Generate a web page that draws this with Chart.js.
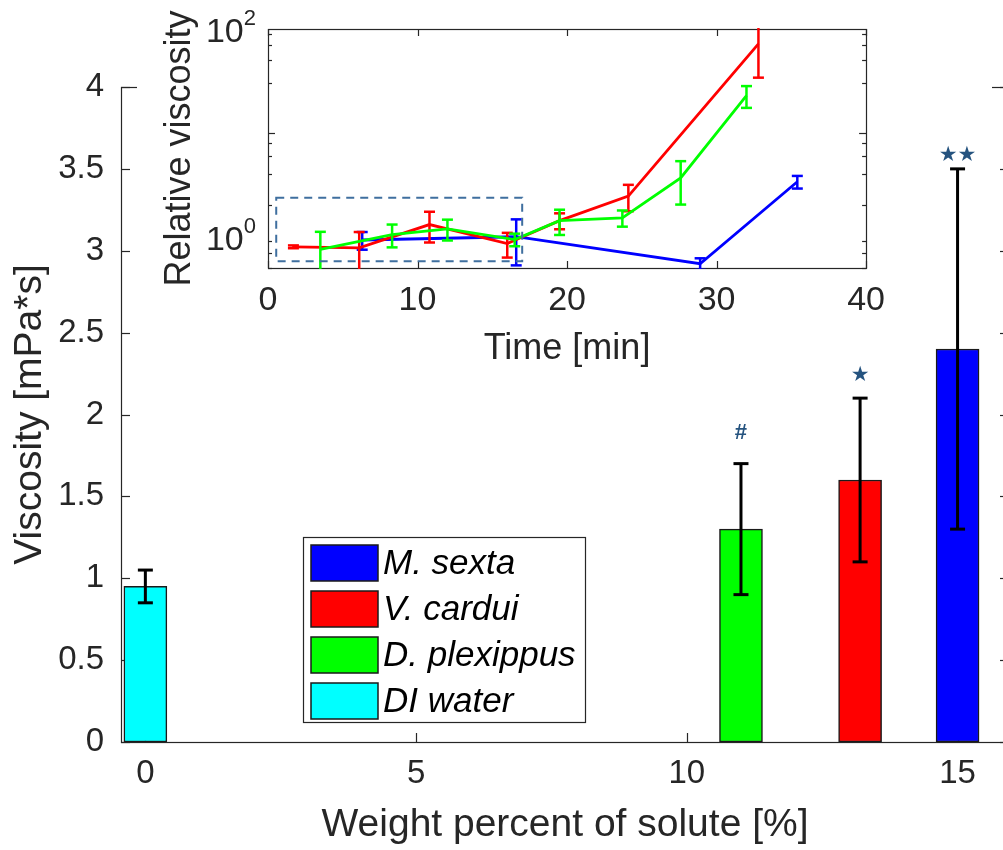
<!DOCTYPE html>
<html>
<head>
<meta charset="utf-8">
<title>Viscosity vs solute</title>
<script src="https://cdn.jsdelivr.net/npm/chart.js@4.4.0/dist/chart.umd.min.js"></script>
<style>
html,body{margin:0;padding:0;background:#fff;overflow:hidden;width:1003px;height:850px;}
#wrap{position:relative;width:1003px;height:850px;overflow:hidden;}
#main{position:absolute;left:0;top:0;}
#mask{position:absolute;left:137px;top:80px;width:855px;height:20px;background:#fff;}
#inset{position:absolute;left:137px;top:0;}
</style>
</head>
<body>
<div id="wrap">
  <canvas id="main" width="1012" height="850"></canvas>
  <div id="mask"></div>
  <canvas id="inset" width="760" height="372"></canvas>
</div>
<script>
const FONT = "'Liberation Sans', Arial, sans-serif";
const INK = '#262626';

// main bars: viscosity of nectar mimics per species
const species = ['M. sexta', 'V. cardui', 'D. plexippus', 'DI water'];
const soluteWt = [15, 13.2, 11, 0];
const viscosity = [2.4, 1.6, 1.3, 0.95];
const viscosityErr = [1.1, 0.5, 0.4, 0.1];
const sigMarks = ['★★', '★', '#', ''];
const sigMarkY = [3.58, 2.24, 1.89, 0];
const speciesColors = ['#0000ff', '#ff0000', '#00ff00', '#00ffff'];
const wtTicks = [0, 5, 10, 15];
const viscTicks = [0, 0.5, 1, 1.5, 2, 2.5, 3, 3.5, 4];

// inset: relative viscosity over time
const sextaTime = [6.3, 16.6, 28.9, 35.4];
const sextaRel = [0.93, 1.0, 0.55, 3.38];
const sextaErr = [0.18, 0.47, 0.07, 0.47];

const carduiTime = [1.7, 6.1, 10.8, 16.0, 19.5, 24.1, 32.8];
const carduiRel = [0.80, 0.78, 1.31, 0.86, 1.43, 2.46, 72];
const carduiErr = [0.025, 0.33, 0.43, 0.23, 0.25, 0.70, 38];

const plexTime = [3.5, 8.3, 12.0, 16.5, 19.5, 23.7, 27.6, 32.0];
const plexRel = [0.755, 1.05, 1.19, 0.94, 1.43, 1.52, 3.69, 22.8];
const plexErr = [0.36, 0.26, 0.27, 0.13, 0.39, 0.27, 1.65, 5.4];

const timeTicks = [0, 10, 20, 30, 40];
const relMajor = [1, 10, 100];
const relMinor = [0.5, 0.6, 0.7, 0.8, 0.9, 2, 3, 4, 5, 6, 7, 8, 9, 20, 30, 40, 50, 60, 70, 80, 90];
const relLabels = [1, 100];

// dashed region marking the early, near-constant phase
const earlyBoxTime = [0.55, 17.0];
const earlyBoxRel = [0.58, 2.37];

function pairs(xs, ys) { return xs.map((x, i) => ({x: x, y: ys[i]})); }

function seg(ctx, x1, y1, x2, y2) {
  ctx.beginPath(); ctx.moveTo(x1, y1); ctx.lineTo(x2, y2); ctx.stroke();
}

// MATLAB-like box with inward ticks, drawn under the data
const frame = {
  id: 'frame',
  beforeDatasetsDraw(chart, args, o) {
    const {ctx, chartArea: a} = chart;
    const sx = chart.scales.x, sy = chart.scales.y;
    ctx.save();
    if (o.fill) {
      ctx.fillStyle = o.fill;
      ctx.fillRect(a.left, a.top, a.right - a.left, a.bottom - a.top);
    }
    ctx.strokeStyle = INK; ctx.lineWidth = 1.2;
    ctx.strokeRect(Math.round(a.left) + 0.5, Math.round(a.top) + 0.5,
      Math.round(a.right - a.left), Math.round(a.bottom - a.top));
    sx.ticks.forEach(t => {
      const px = Math.round(sx.getPixelForValue(t.value)) + 0.5;
      seg(ctx, px, a.bottom, px, a.bottom - o.len);
      seg(ctx, px, a.top, px, a.top + o.len);
    });
    sy.ticks.forEach(t => {
      const major = !o.log || Math.abs(Math.log10(t.value) - Math.round(Math.log10(t.value))) < 1e-6;
      const L = major ? o.len : o.minorLen;
      const py = Math.round(sy.getPixelForValue(t.value)) + 0.5;
      seg(ctx, a.left, py, a.left + L, py);
      seg(ctx, a.right, py, a.right - L, py);
    });
    ctx.restore();
  }
};

// vertical error bars with caps, drawn after each dataset
const errorBars = {
  id: 'errorBars',
  afterDatasetDraw(chart, args) {
    const ds = chart.data.datasets[args.index];
    if (!ds.errors) return;
    const {ctx, chartArea: a} = chart;
    const sy = chart.scales.y;
    const meta = args.meta;
    ctx.save();
    ctx.beginPath();
    ctx.rect(a.left, a.top - 1, a.right - a.left, a.bottom - a.top + 2);
    ctx.clip();
    ctx.strokeStyle = ds.errColor || ds.borderColor;
    ctx.lineWidth = ds.errWidth || 2;
    meta.data.forEach((el, i) => {
      const v = ds.data[i].y, e = ds.errors[i];
      const x = el.x;
      const yTop = sy.getPixelForValue(v + e);
      const lo = v - e;
      const yBot = lo > 0 ? sy.getPixelForValue(lo) : a.bottom + 20;
      const h = ds.capWidth / 2;
      seg(ctx, x, yTop, x, yBot);
      seg(ctx, x - h, yTop, x + h, yTop);
      seg(ctx, x - h, yBot, x + h, yBot);
    });
    ctx.restore();
  }
};

// significance marks above the error bars
const sigLabels = {
  id: 'sigLabels',
  afterDatasetsDraw(chart) {
    const {ctx} = chart;
    const sx = chart.scales.x, sy = chart.scales.y;
    ctx.save();
    ctx.fillStyle = '#25537f';
    ctx.textAlign = 'center';
    ctx.textBaseline = 'middle';
    sigMarks.forEach((m, i) => {
      if (!m) return;
      const x = sx.getPixelForValue(soluteWt[i]);
      const y = sy.getPixelForValue(sigMarkY[i]);
      ctx.font = m === '#' ? 'bold 22px ' + FONT : "21px 'DejaVu Sans'";
      ctx.fillText(m, x, y);
    });
    ctx.restore();
  }
};

// boxed legend in the lower-left part of the plot
const boxLegend = {
  id: 'boxLegend',
  afterDraw(chart) {
    const {ctx} = chart;
    const L = 303, T = 537, W = 282, H = 185;
    ctx.save();
    ctx.fillStyle = '#fff';
    ctx.fillRect(L, T, W, H);
    ctx.strokeStyle = INK; ctx.lineWidth = 1.2;
    ctx.strokeRect(L + 0.5, T + 0.5, W, H);
    ctx.font = 'italic 35px ' + FONT;
    ctx.textBaseline = 'middle';
    chart.data.datasets.forEach((ds, i) => {
      const y = T + 8 + i * 46;
      ctx.fillStyle = ds.backgroundColor;
      ctx.fillRect(L + 8, y, 67, 36);
      ctx.strokeStyle = '#1a1a1a'; ctx.lineWidth = 1.5;
      ctx.strokeRect(L + 8, y, 67, 36);
      ctx.fillStyle = '#000';
      ctx.fillText(ds.label, L + 80, y + 19);
    });
    ctx.restore();
  }
};

const mainChart = new Chart(document.getElementById('main'), {
  type: 'bar',
  data: {
    datasets: species.map((name, i) => ({
      label: name,
      data: [{x: soluteWt[i], y: viscosity[i]}],
      backgroundColor: speciesColors[i],
      borderColor: '#1a1a1a',
      borderWidth: 1.5,
      borderSkipped: false,
      barThickness: 43,
      grouped: false,
      errors: [viscosityErr[i]],
      errColor: '#000',
      errWidth: 3,
      capWidth: 15
    }))
  },
  options: {
    responsive: false,
    animation: false,
    devicePixelRatio: 1,
    layout: {padding: {top: 87, right: 3, left: 0, bottom: 0}},
    plugins: {
      legend: {display: false},
      tooltip: {enabled: false},
      frame: {len: 9, minorLen: 5, log: false}
    },
    scales: {
      x: {
        type: 'linear', min: -0.45, max: 15.95, offset: false,
        afterBuildTicks: s => { s.ticks = wtTicks.map(v => ({value: v})); },
        afterFit: s => { s.height = 108; },
        grid: {display: false, drawTicks: false, offset: false},
        border: {display: false},
        ticks: {color: INK, font: {family: FONT, size: 33}, padding: 12, maxRotation: 0,
          callback: v => String(v)},
        title: {display: true, text: 'Weight percent of solute [%]', color: INK,
          font: {family: FONT, size: 39}, padding: {bottom: 1}}
      },
      y: {
        type: 'linear', min: 0, max: 4,
        afterBuildTicks: s => { s.ticks = viscTicks.map(v => ({value: v})); },
        afterFit: s => { s.width = 121; },
        grid: {display: false, drawTicks: false},
        border: {display: false},
        ticks: {color: INK, font: {family: FONT, size: 33}, padding: 17,
          callback: v => String(v)},
        title: {display: true, text: 'Viscosity [mPa*s]', color: INK,
          font: {family: FONT, size: 39}, padding: {top: 7}}
      }
    }
  },
  plugins: [frame, errorBars, sigLabels, boxLegend]
});

// dashed box and 10^n labels for the inset
const insetExtras = {
  id: 'insetExtras',
  afterDatasetsDraw(chart) {
    const {ctx} = chart;
    const sx = chart.scales.x, sy = chart.scales.y;
    ctx.save();
    ctx.strokeStyle = '#3f6f9f';
    ctx.lineWidth = 2;
    ctx.setLineDash([8, 6]);
    const x1 = sx.getPixelForValue(earlyBoxTime[0]), x2 = sx.getPixelForValue(earlyBoxTime[1]);
    const y1 = sy.getPixelForValue(earlyBoxRel[1]), y2 = sy.getPixelForValue(earlyBoxRel[0]);
    ctx.strokeRect(x1, y1, x2 - x1, y2 - y1);
    ctx.restore();
  },
  afterDraw(chart) {
    const {ctx, chartArea: a} = chart;
    const sy = chart.scales.y;
    ctx.save();
    ctx.fillStyle = INK;
    ctx.textBaseline = 'middle';
    relLabels.forEach(v => {
      const y = sy.getPixelForValue(v) + 4;
      const exp = String(Math.round(Math.log10(v)));
      ctx.font = '22px ' + FONT;
      const ew = ctx.measureText(exp).width;
      ctx.textAlign = 'right';
      ctx.fillText(exp, a.left - 12, y - 14);
      ctx.font = '34px ' + FONT;
      ctx.fillText('10', a.left - 12 - ew, y);
    });
    ctx.restore();
  }
};

function insetSeries(label, xs, ys, errs, color, order) {
  return {
    label: label,
    data: pairs(xs, ys),
    borderColor: color,
    borderWidth: 2.8,
    pointRadius: 0,
    fill: false,
    tension: 0,
    order: order,
    errors: errs,
    errWidth: 2.5,
    capWidth: 11
  };
}

const insetChart = new Chart(document.getElementById('inset'), {
  type: 'line',
  data: {
    datasets: [
      insetSeries('D. plexippus', plexTime, plexRel, plexErr, '#00ff00', 0),
      insetSeries('V. cardui', carduiTime, carduiRel, carduiErr, '#ff0000', 1),
      insetSeries('M. sexta', sextaTime, sextaRel, sextaErr, '#0000ff', 2)
    ]
  },
  options: {
    responsive: false,
    animation: false,
    devicePixelRatio: 1,
    layout: {padding: {top: 29, right: 24, left: 0, bottom: 0}},
    plugins: {
      legend: {display: false},
      tooltip: {enabled: false},
      frame: {len: 7, minorLen: 4, log: true, fill: '#fff'}
    },
    scales: {
      x: {
        type: 'linear', min: 0, max: 40,
        afterBuildTicks: s => { s.ticks = timeTicks.map(v => ({value: v})); },
        afterFit: s => { s.height = 104; },
        grid: {display: false, drawTicks: false},
        border: {display: false},
        ticks: {color: INK, font: {family: FONT, size: 34}, padding: 12, maxRotation: 0,
          callback: v => String(v)},
        title: {display: true, text: 'Time [min]', color: INK,
          font: {family: FONT, size: 36}, padding: {bottom: 1}}
      },
      y: {
        type: 'logarithmic', min: 0.5, max: 100,
        afterBuildTicks: s => {
          s.ticks = relMajor.concat(relMinor).sort((p, q) => p - q).map(v => ({value: v}));
        },
        afterFit: s => { s.width = 131; },
        grid: {display: false, drawTicks: false},
        border: {display: false},
        ticks: {callback: () => ''},
        title: {display: true, text: 'Relative viscosity', color: INK,
          font: {family: FONT, size: 36}, padding: {top: 21}}
      }
    }
  },
  plugins: [frame, errorBars, insetExtras]
});
</script>
</body>
</html>
